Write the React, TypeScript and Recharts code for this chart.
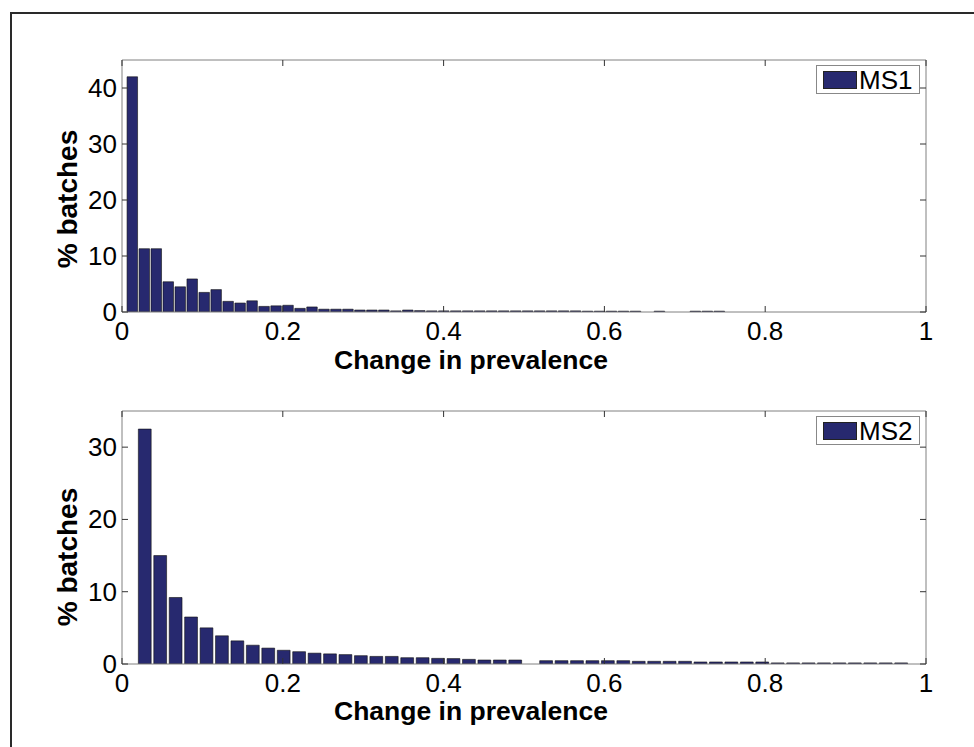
import React from 'react';
import { BarChart, Bar, XAxis, YAxis, Legend } from 'recharts';

// bin centres (change in prevalence) and % of batches per bin
const ms1Centers = [
  0.0125, 0.0274, 0.0423, 0.0572, 0.0721, 0.087, 0.1019, 0.1168, 0.1317, 0.1466,
  0.1615, 0.1764, 0.1913, 0.2062, 0.2211, 0.236, 0.2509, 0.2658, 0.2807, 0.2956,
  0.3105, 0.3254, 0.3403, 0.3552, 0.3701, 0.385, 0.3999, 0.4148, 0.4297, 0.4446,
  0.4595, 0.4744, 0.4893, 0.5042, 0.5191, 0.534, 0.5489, 0.5638, 0.5787, 0.5936,
  0.6085, 0.6234, 0.6383, 0.6532, 0.6681, 0.683, 0.6979, 0.7128, 0.7277, 0.7426,
];
const ms1Values = [
  42.0, 11.3, 11.3, 5.4, 4.5, 5.9, 3.5, 4.0, 1.9, 1.6,
  2.0, 1.0, 1.1, 1.2, 0.65, 0.9, 0.5, 0.5, 0.5, 0.35,
  0.35, 0.35, 0.2, 0.35, 0.25, 0.2, 0.2, 0.2, 0.2, 0.2,
  0.2, 0.2, 0.2, 0.2, 0.2, 0.2, 0.2, 0.2, 0.15, 0.15,
  0.15, 0.15, 0.15, 0, 0.15, 0, 0, 0.15, 0.15, 0.15,
];

const ms2Centers = [
  0.0287, 0.0479, 0.0671, 0.0863, 0.1055, 0.1247, 0.1439, 0.1631, 0.1823, 0.2015,
  0.2207, 0.2399, 0.2591, 0.2783, 0.2975, 0.3167, 0.3359, 0.3551, 0.3743, 0.3935,
  0.4127, 0.4319, 0.4511, 0.4703, 0.4895, 0.5087, 0.5279, 0.5471, 0.5663, 0.5855,
  0.6047, 0.6239, 0.6431, 0.6623, 0.6815, 0.7007, 0.7199, 0.7391, 0.7583, 0.7775,
  0.7967, 0.8159, 0.8351, 0.8543, 0.8735, 0.8927, 0.9119, 0.9311, 0.9503, 0.9695,
];
const ms2Values = [
  32.5, 15.0, 9.2, 6.5, 5.0, 3.9, 3.2, 2.6, 2.2, 1.9,
  1.7, 1.5, 1.4, 1.3, 1.15, 1.05, 1.05, 0.87, 0.87, 0.78,
  0.75, 0.64, 0.55, 0.55, 0.55, 0, 0.46, 0.46, 0.46, 0.46,
  0.46, 0.46, 0.37, 0.37, 0.37, 0.37, 0.28, 0.28, 0.28, 0.28,
  0.28, 0.15, 0.15, 0.15, 0.15, 0.15, 0.15, 0.15, 0.15, 0.15,
];

const xTicks = [0, 0.2, 0.4, 0.6, 0.8, 1];
const ms1YTicks = [0, 10, 20, 30, 40];
const ms2YTicks = [0, 10, 20, 30];

const FONT = '"Liberation Sans", Arial, sans-serif';
const BAR_FILL = '#27296f';
const AXIS = '#808080';
const TICK = 6;
const PLOT_TOP = 60;
const PLOT_RIGHT = 926;

// bottom tick: label + inward tick, plus the mirrored tick on the top edge
const BottomTick = (props: any) => {
  const { x, y, payload } = props;
  return (
    <g>
      <line x1={x} y1={y} x2={x} y2={y - TICK} stroke="#333" />
      <line x1={x} y1={PLOT_TOP} x2={x} y2={PLOT_TOP + TICK} stroke="#333" />
      <text x={x} y={y + 28} textAnchor="middle" fontSize={26} fontFamily={FONT} fill="#000">
        {String(payload.value)}
      </text>
    </g>
  );
};

// left tick: label + inward tick, plus the mirrored tick on the right edge
const LeftTick = (props: any) => {
  const { x, y, payload } = props;
  return (
    <g>
      <line x1={x} y1={y} x2={x + TICK} y2={y} stroke="#333" />
      <line x1={PLOT_RIGHT} y1={y} x2={PLOT_RIGHT - TICK} y2={y} stroke="#333" />
      <text x={x - 5} y={y + 9} textAnchor="end" fontSize={26} fontFamily={FONT} fill="#000">
        {String(payload.value)}
      </text>
    </g>
  );
};

function LegendBox({ name }: { name: string }) {
  return (
    <div
      style={{
        boxSizing: 'border-box',
        width: 104,
        height: 29,
        border: '1px solid #888',
        background: '#fff',
        display: 'flex',
        alignItems: 'center',
        paddingLeft: 6,
        fontFamily: FONT,
        fontSize: 26,
      }}
    >
      <span style={{ width: 32, height: 16, background: BAR_FILL, border: '1px solid #222', marginRight: 2 }} />
      <span style={{ lineHeight: '26px' }}>{name}</span>
    </div>
  );
}

interface PanelProps {
  centers: number[];
  values: number[];
  name: string;
  yMax: number;
  yTicks: number[];
  barSize: number;
  height: number;
  bottom: number;
}

function HistPanel({ centers, values, name, yMax, yTicks, barSize, height, bottom }: PanelProps) {
  const data = centers.map((c, i) => ({ x: c, v: values[i] }));
  return (
    <BarChart
      width={974}
      height={height}
      data={data}
      margin={{ top: PLOT_TOP - 1, right: 974 - PLOT_RIGHT - 1, bottom: bottom - 1, left: 121 }}
    >
      <XAxis
        dataKey="x"
        type="number"
        domain={[0, 1]}
        ticks={xTicks}
        allowDataOverflow
        height={1}
        tickSize={0}
        tickMargin={0}
        tickLine={false}
        tick={<BottomTick />}
        stroke={AXIS}
        interval={0}
      />
      <XAxis xAxisId="top" orientation="top" type="number" domain={[0, 1]} height={1} tick={false} tickLine={false} stroke={AXIS} />
      <YAxis
        type="number"
        domain={[0, yMax]}
        ticks={yTicks}
        allowDataOverflow
        width={1}
        tickSize={0}
        tickMargin={0}
        tickLine={false}
        tick={<LeftTick />}
        stroke={AXIS}
        interval={0}
      />
      <YAxis yAxisId="right" orientation="right" type="number" domain={[0, yMax]} width={1} tick={false} tickLine={false} stroke={AXIS} />
      <Legend
        layout="horizontal"
        verticalAlign="middle"
        align="center"
        wrapperStyle={{ top: 65, left: 816, width: 104, height: 29 }}
        content={() => <LegendBox name={name} />}
      />
      <Bar
        dataKey="v"
        name={name}
        barSize={barSize}
        fill={BAR_FILL}
        stroke="#111"
        strokeWidth={0.6}
        isAnimationActive={false}
      />
    </BarChart>
  );
}

export default function App() {
  return (
    <div style={{ position: 'absolute', top: 0, left: 0, width: 974, height: 747, overflow: 'hidden', background: '#fff' }}>
      <div
        style={{
          position: 'absolute',
          left: 10,
          top: 12,
          width: 990,
          height: 780,
          border: '2px solid #2a2a2a',
        }}
      />
      <div style={{ position: 'absolute', left: 0, top: 0 }}>
        <HistPanel centers={ms1Centers} values={ms1Values} name="MS1" yMax={45} yTicks={ms1YTicks} barSize={10.5} height={390} bottom={78} />
      </div>
      <div style={{ position: 'absolute', left: 0, top: 351 }}>
        <HistPanel centers={ms2Centers} values={ms2Values} name="MS2" yMax={35} yTicks={ms2YTicks} barSize={12.8} height={396} bottom={83} />
      </div>
      <svg width={974} height={747} style={{ position: 'absolute', left: 0, top: 0, pointerEvents: 'none' }}>
        <text x={471} y={369} textAnchor="middle" fontSize={26.5} fontWeight="bold" fontFamily={FONT}>
          Change in prevalence
        </text>
        <text x={471} y={720} textAnchor="middle" fontSize={26.5} fontWeight="bold" fontFamily={FONT}>
          Change in prevalence
        </text>
        <text transform="translate(77,199) rotate(-90)" textAnchor="middle" fontSize={28} fontWeight="bold" fontFamily={FONT}>
          % batches
        </text>
        <text transform="translate(77,557) rotate(-90)" textAnchor="middle" fontSize={28} fontWeight="bold" fontFamily={FONT}>
          % batches
        </text>
      </svg>
    </div>
  );
}
